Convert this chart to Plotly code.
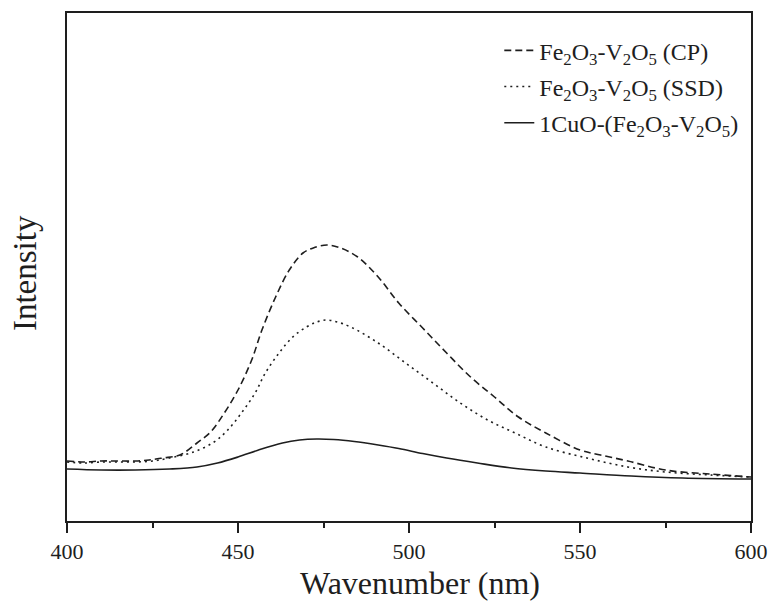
import plotly.graph_objects as go

# Wavelength (nm) and intensity (a.u.)
cp_x = [400, 405, 410, 415, 420, 424, 428, 433, 438, 442, 446, 450, 454, 457, 461, 465, 469, 472, 476, 480, 485, 491, 497, 504, 511, 518, 525, 532, 540, 550, 556, 564, 575, 588, 600]
cp_y = [60, 59, 60, 60, 60, 61, 63, 66, 78, 89, 108, 131, 161, 191, 224, 251, 268, 273, 276, 273, 264, 244, 218, 193, 168, 144, 124, 104, 88, 71, 66, 60, 51, 47, 44]

ssd_x = [400, 405, 410, 415, 420, 425, 430, 437, 443, 447, 451, 455, 458, 462, 466, 470, 473, 476, 479, 483, 491, 499, 507, 515, 523, 531, 540, 552, 564, 575, 588, 600]
ssd_y = [59, 58, 59, 59, 59, 60, 63, 69, 79, 91, 108, 128, 148, 168, 184, 194, 199, 201, 199, 194, 178, 158, 138, 118, 101, 88, 74, 63, 54, 49, 46, 44]

cu_x = [400, 410, 420, 430, 438, 444, 450, 456, 463, 468, 473, 478, 484, 491, 497, 504, 511, 520, 530, 540, 550, 565, 580, 600]
cu_y = [52, 51, 51, 52, 54, 58, 64, 71, 78, 81, 82, 81.5, 79.5, 76, 72.5, 67.5, 63, 58, 53, 50, 48, 45, 43, 42]

names = [
    "Fe<sub>2</sub>O<sub>3</sub>-V<sub>2</sub>O<sub>5</sub> (CP)",
    "Fe<sub>2</sub>O<sub>3</sub>-V<sub>2</sub>O<sub>5</sub> (SSD)",
    "1CuO-(Fe<sub>2</sub>O<sub>3</sub>-V<sub>2</sub>O<sub>5</sub>)",
]
x_ticks = [400, 450, 500, 550, 600]
x_title = "Wavenumber (nm)"
y_title = "Intensity"

ink = "#1e1e1e"
font = "Liberation Serif, Times New Roman, serif"

fig = go.Figure()
fig.add_trace(go.Scatter(x=cp_x, y=cp_y, mode="lines", name=names[0], legendgroup="a",
                         line=dict(color=ink, width=1.6, dash="7px,4px", shape="spline", smoothing=1.0)))
fig.add_trace(go.Scatter(x=ssd_x, y=ssd_y, mode="lines", name=names[1], legendgroup="b",
                         line=dict(color=ink, width=1.6, dash="2px,4px", shape="spline", smoothing=1.0)))
fig.add_trace(go.Scatter(x=cu_x, y=cu_y, mode="lines", name=names[2], legendgroup="c",
                         line=dict(color=ink, width=1.6, shape="spline", smoothing=1.0)))

fig.update_layout(
    width=771, height=602,
    margin=dict(l=67, r=20, t=13, b=81, autoexpand=False),
    paper_bgcolor="white", plot_bgcolor="white",
    font=dict(family=font, size=23, color=ink),
    legend=dict(x=0.632, y=0.97, xanchor="left", yanchor="top",
                bgcolor="rgba(0,0,0,0)", tracegroupgap=2,
                font=dict(family=font, size=24, color=ink)),
    showlegend=True,
    annotations=[
        dict(text=x_title, xref="paper", yref="paper", x=0.516, y=0,
             xanchor="center", yanchor="middle", yshift=-62, showarrow=False,
             font=dict(family=font, size=32, color=ink)),
        dict(text=y_title, xref="paper", yref="paper", x=0, y=0.488,
             xanchor="center", yanchor="middle", xshift=-42, textangle=-90,
             showarrow=False, font=dict(family=font, size=33, color=ink)),
    ],
)
fig.update_xaxes(
    range=[400, 600], tickvals=x_ticks, ticks="outside", ticklen=10, tickwidth=2,
    tickcolor=ink, showline=True, linewidth=2, linecolor=ink, mirror=True,
    showgrid=False, zeroline=False, automargin=False,
    minor=dict(dtick=25, tick0=400, ticks="outside", ticklen=5, tickwidth=2, tickcolor=ink),
    tickfont=dict(family=font, size=22, color=ink),
)
fig.update_yaxes(
    range=[0, 508], showticklabels=False, ticks="", showline=True, linewidth=2,
    linecolor=ink, mirror=True, showgrid=False, zeroline=False, automargin=False,
)

# remove the page's default body margin so the 771x602 figure fills the window
fig.write_html("out.html", config={"displayModeBar": False},
               post_script="document.body.style.margin='0';document.body.style.overflow='hidden';")
